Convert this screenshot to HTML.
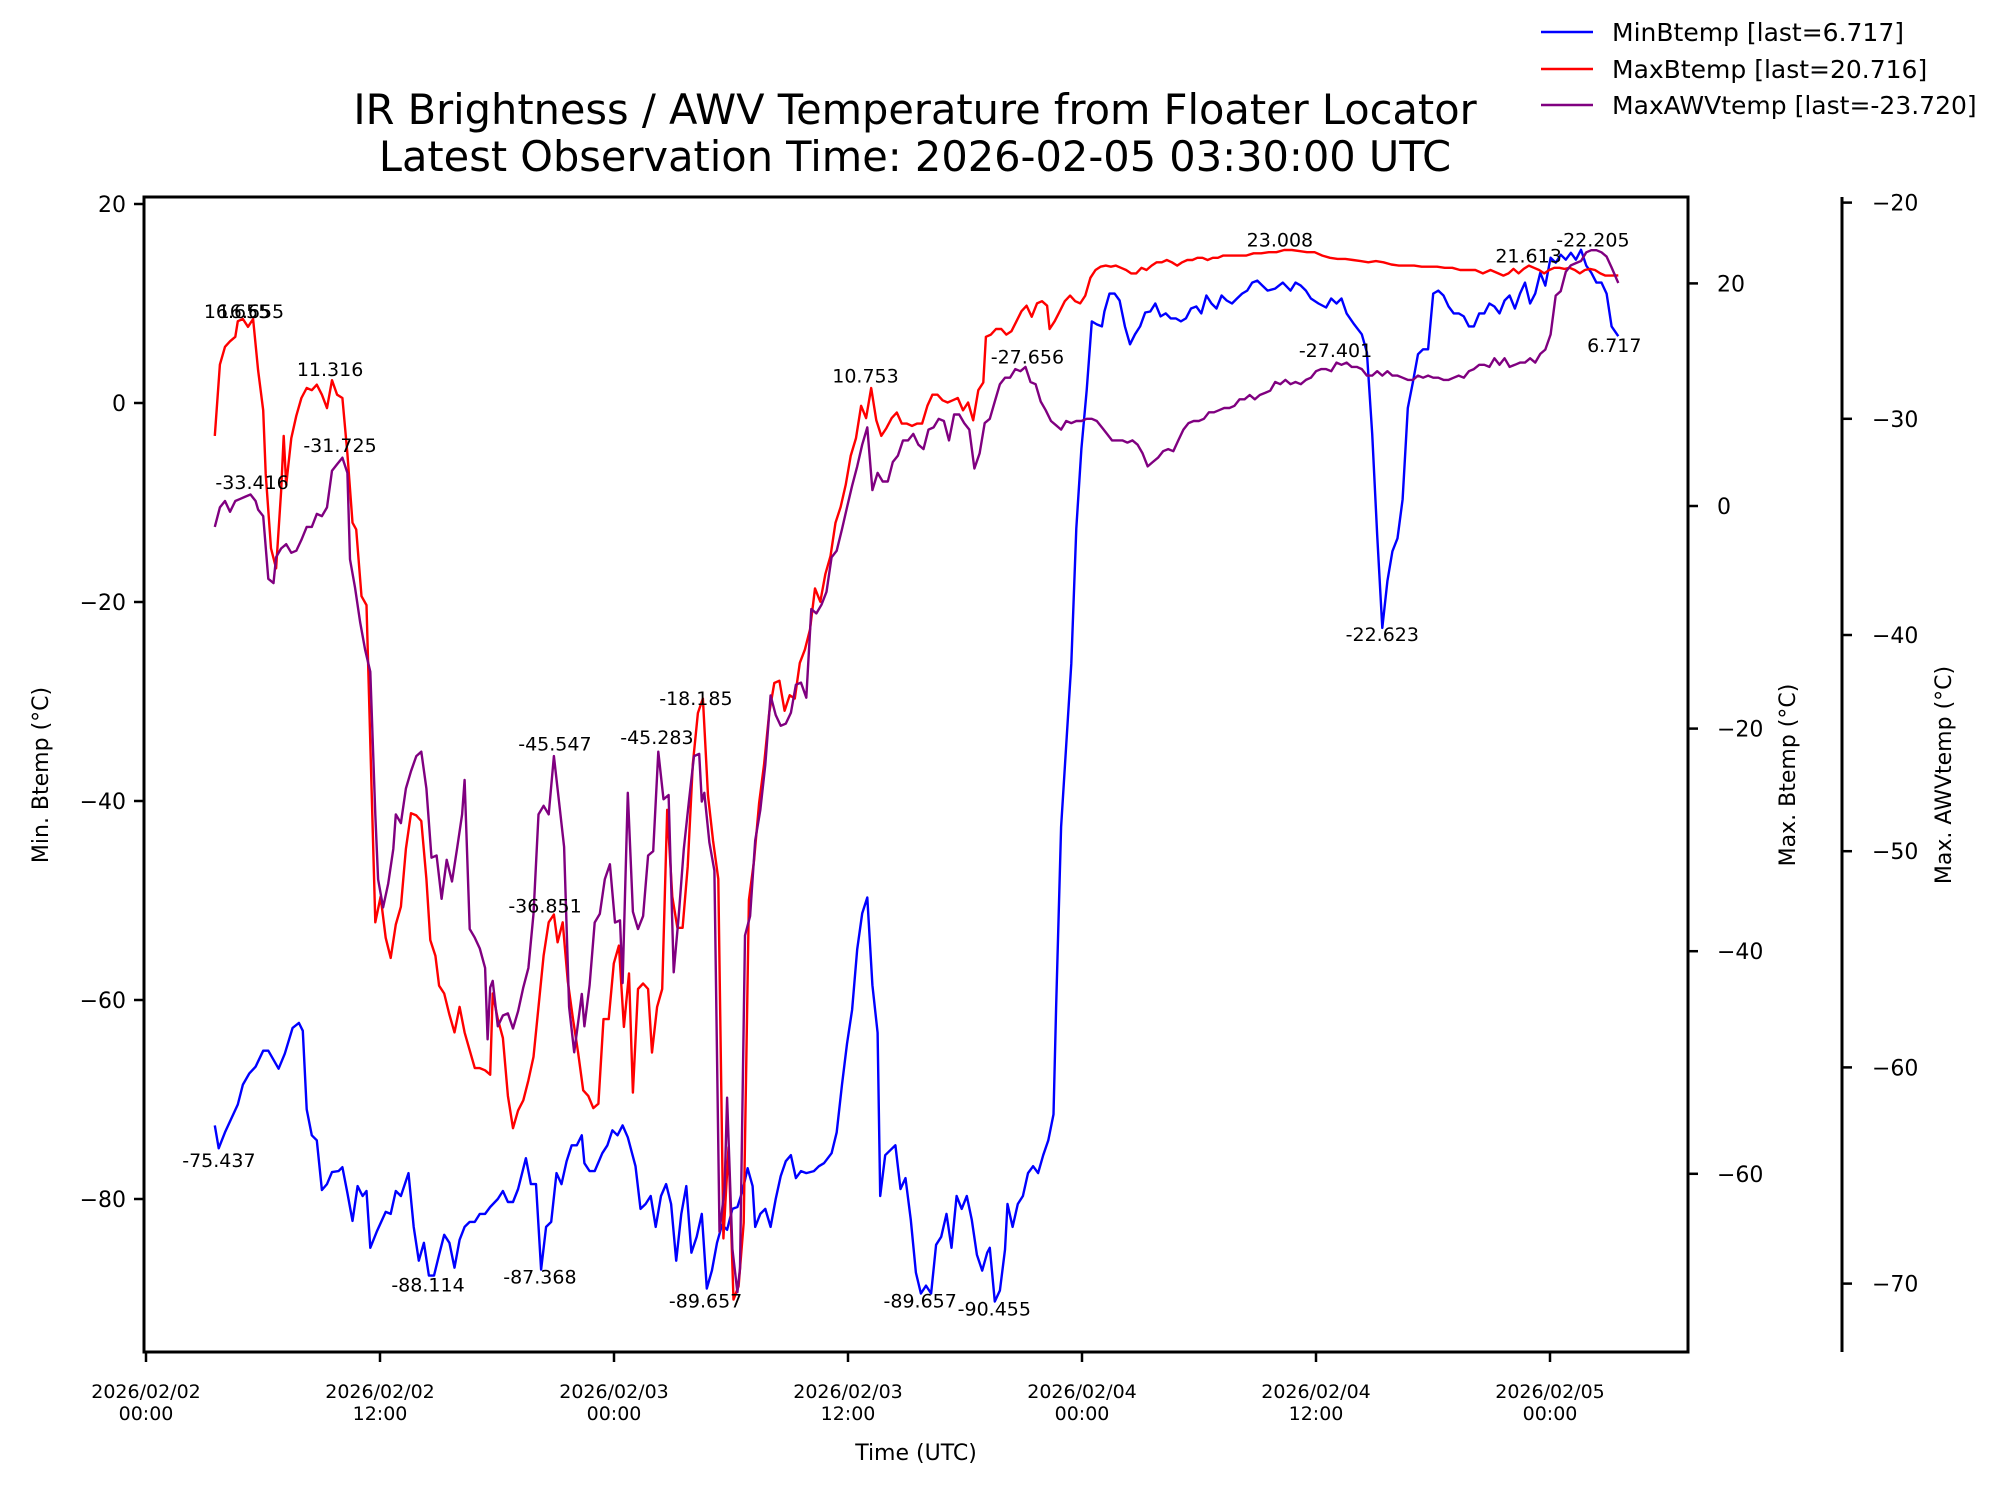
<!DOCTYPE html>
<html><head><meta charset="utf-8"><style>
html,body{margin:0;padding:0;background:#fff;}
svg{display:block;font-family:"DejaVu Sans","Liberation Sans",sans-serif;}
</style></head><body>
<svg id="chart" width="1998" height="1495" viewBox="0 0 1998 1495" xmlns="http://www.w3.org/2000/svg">
<rect x="0" y="0" width="1998" height="1495" fill="#fff"/>
<text x="915" y="124" font-size="41.5" text-anchor="middle">IR Brightness / AWV Temperature from Floater Locator</text>
<text x="915" y="171" font-size="41.5" text-anchor="middle">Latest Observation Time: 2026-02-05 03:30:00 UTC</text>
<g id="plot"></g>
<g>
<line x1="1541" y1="32" x2="1593" y2="32" stroke="#0000ff" stroke-width="2.5"/>
<text x="1612" y="41" font-size="25">MinBtemp [last=6.717]</text>
<line x1="1541" y1="69" x2="1593" y2="69" stroke="#ff0000" stroke-width="2.5"/>
<text x="1612" y="78" font-size="25">MaxBtemp [last=20.716]</text>
<line x1="1541" y1="105" x2="1593" y2="105" stroke="#800080" stroke-width="2.5"/>
<text x="1612" y="114" font-size="25">MaxAWVtemp [last=-23.720]</text>
</g>
<text x="916" y="1460" font-size="22" text-anchor="middle">Time (UTC)</text>
<text x="0" y="0" font-size="22" text-anchor="middle" transform="translate(48,775) rotate(-90)">Min. Btemp (°C)</text>
<text x="0" y="0" font-size="22" text-anchor="middle" transform="translate(1795,775) rotate(-90)">Max. Btemp (°C)</text>
<text x="0" y="0" font-size="22" text-anchor="middle" transform="translate(1951,775) rotate(-90)">Max. AWVtemp (°C)</text>
</svg>
<script>
// ---- data (hours since 2026-02-02 00:00 UTC, values in °C) ----
const minT = [3.53,3.73,4.05,4.71,4.97,5.29,5.62,6.01,6.27,6.80,7.12,7.52,7.84,8.04,8.24,8.50,8.76,9.02,9.28,9.54,9.87,10.07,10.33,10.59,10.85,11.11,11.31,11.50,11.83,12.29,12.55,12.81,13.07,13.46,13.73,13.99,14.25,14.51,14.77,15.03,15.29,15.56,15.82,16.08,16.34,16.60,16.86,17.12,17.39,17.65,18.04,18.30,18.56,18.82,19.08,19.48,19.74,20.00,20.26,20.52,20.78,21.05,21.31,21.57,21.83,22.09,22.35,22.48,22.75,23.01,23.40,23.66,23.92,24.18,24.44,24.71,25.10,25.36,25.62,25.88,26.14,26.41,26.67,26.93,27.19,27.45,27.71,27.97,28.24,28.50,28.76,29.02,29.28,29.54,29.80,30.07,30.33,30.59,30.85,31.11,31.24,31.50,31.76,32.03,32.29,32.55,32.81,33.07,33.33,33.59,33.86,34.25,34.51,34.77,35.16,35.42,35.69,35.95,36.21,36.47,36.73,36.99,37.25,37.52,37.65,37.91,38.17,38.43,38.69,38.95,39.22,39.48,39.74,40.00,40.26,40.52,40.78,41.05,41.31,41.57,41.83,42.09,42.35,42.61,42.88,43.14,43.27,43.53,43.79,44.05,44.18,44.44,44.71,44.97,45.23,45.49,45.75,46.01,46.27,46.54,46.67,46.93,47.19,47.45,47.71,47.97,48.24,48.50,48.76,49.02,49.15,49.41,49.67,49.93,50.20,50.46,50.72,50.98,51.24,51.50,51.76,52.03,52.29,52.55,52.81,53.07,53.33,53.59,53.86,54.12,54.38,54.64,54.90,55.16,55.42,55.69,55.95,56.21,56.47,56.73,56.99,57.25,57.52,57.91,58.30,58.69,58.95,59.22,59.48,59.74,60.13,60.52,60.78,61.05,61.31,61.57,61.96,62.35,62.61,62.88,63.14,63.40,63.66,63.92,64.18,64.44,64.71,64.97,65.23,65.49,65.75,66.01,66.27,66.54,66.80,67.06,67.32,67.58,67.84,68.10,68.37,68.63,68.89,69.15,69.41,69.67,69.93,70.20,70.46,70.72,70.98,71.24,71.50,71.76,72.03,72.29,72.55,72.81,73.07,73.33,73.59,73.86,74.12,74.38,74.64,74.90,75.16,75.5];
const minBtemp = [-72.6,-74.9,-73.3,-70.5,-68.5,-67.4,-66.7,-65.1,-65.1,-66.9,-65.4,-62.8,-62.3,-63.1,-71.0,-73.6,-74.1,-79.1,-78.5,-77.3,-77.2,-76.8,-79.4,-82.2,-78.7,-79.7,-79.2,-84.9,-83.3,-81.3,-81.5,-79.2,-79.7,-77.4,-82.8,-86.2,-84.4,-87.7,-87.7,-85.6,-83.6,-84.4,-86.9,-84.1,-82.8,-82.3,-82.3,-81.5,-81.5,-80.8,-80.0,-79.2,-80.3,-80.3,-79.0,-75.9,-78.5,-78.5,-87.1,-82.8,-82.3,-77.4,-78.5,-76.2,-74.6,-74.6,-73.6,-76.4,-77.2,-77.2,-75.4,-74.6,-73.1,-73.6,-72.6,-73.8,-76.7,-81.0,-80.5,-79.7,-82.8,-79.7,-78.5,-80.5,-86.2,-81.5,-78.7,-85.4,-83.8,-81.5,-89.0,-87.2,-84.4,-82.6,-83.1,-81.0,-80.8,-79.2,-76.9,-78.7,-82.8,-81.5,-81.0,-82.8,-80.0,-77.7,-76.2,-75.6,-77.9,-77.2,-77.4,-77.2,-76.7,-76.4,-75.4,-73.3,-68.5,-64.4,-61.0,-54.9,-51.3,-49.7,-58.5,-63.3,-79.7,-75.6,-75.1,-74.6,-79.0,-77.9,-82.1,-87.4,-89.5,-88.7,-89.5,-84.6,-83.8,-81.5,-84.9,-79.7,-81.0,-79.7,-82.1,-85.6,-87.2,-85.4,-84.9,-90.3,-89.2,-85.1,-80.5,-82.8,-80.5,-79.7,-77.4,-76.7,-77.4,-75.6,-74.1,-71.5,-60.8,-42.6,-34.4,-26.2,-12.6,-4.6,1.3,8.2,7.9,7.7,9.2,11.0,11.0,10.3,7.7,5.9,6.9,7.7,9.1,9.2,10.0,8.7,9.0,8.5,8.5,8.2,8.5,9.5,9.7,9.0,10.8,10.0,9.5,10.8,10.3,10.0,10.5,11.0,11.3,12.1,12.3,11.8,11.3,11.5,12.1,11.3,12.1,11.8,11.3,10.5,10.0,9.6,10.5,10.0,10.5,9.0,7.9,6.9,5.1,-3.1,-13.3,-22.6,-17.9,-14.9,-13.6,-9.7,-0.5,2.1,4.9,5.4,5.4,11.0,11.3,10.8,9.7,9.0,9.0,8.7,7.7,7.7,9.0,9.0,10.0,9.7,9.0,10.3,10.8,9.5,11.0,12.1,10.0,11.0,13.1,11.8,14.6,14.1,14.9,14.4,15.1,14.4,15.4,13.8,13.1,12.1,12.1,11.0,7.7,6.717];

const maxT = [3.53,3.79,4.05,4.31,4.58,4.71,4.97,5.23,5.49,5.75,6.01,6.14,6.41,6.67,6.93,7.06,7.19,7.45,7.71,7.97,8.24,8.50,8.76,9.02,9.28,9.54,9.80,10.07,10.33,10.59,10.78,11.05,11.31,11.57,11.76,12.03,12.29,12.55,12.81,13.07,13.33,13.59,13.86,14.12,14.38,14.58,14.84,15.03,15.29,15.56,15.82,16.08,16.34,16.60,16.86,17.12,17.39,17.65,17.78,18.04,18.30,18.56,18.82,19.08,19.35,19.61,19.87,20.13,20.39,20.65,20.92,21.11,21.37,21.63,21.90,22.16,22.42,22.68,22.94,23.20,23.46,23.73,23.99,24.25,24.51,24.77,24.97,25.23,25.49,25.75,25.95,26.21,26.47,26.73,26.99,27.25,27.52,27.78,28.04,28.30,28.56,28.82,29.08,29.35,29.61,29.87,30.13,30.39,30.65,30.92,31.18,31.44,31.70,31.96,32.22,32.48,32.75,33.01,33.27,33.53,33.79,34.05,34.31,34.58,34.84,35.10,35.36,35.62,35.88,36.14,36.41,36.67,36.93,37.19,37.45,37.71,37.97,38.24,38.50,38.76,39.02,39.28,39.54,39.80,40.07,40.33,40.59,40.85,41.11,41.37,41.63,41.90,42.16,42.42,42.68,42.94,43.07,43.33,43.59,43.86,44.12,44.38,44.64,44.90,45.16,45.42,45.69,45.95,46.21,46.34,46.60,46.86,47.12,47.39,47.65,47.91,48.17,48.43,48.69,48.95,49.22,49.48,49.74,50.00,50.26,50.52,50.78,51.05,51.31,51.57,51.83,52.09,52.35,52.61,52.88,53.14,53.40,53.66,53.92,54.18,54.44,54.71,54.97,55.23,55.62,56.01,56.41,56.80,57.19,57.58,57.97,58.37,58.76,59.15,59.54,59.93,60.33,60.72,61.11,61.50,61.90,62.29,62.68,63.07,63.46,63.86,64.25,64.64,65.03,65.42,65.82,66.21,66.60,66.99,67.39,67.78,68.17,68.56,68.95,69.35,69.61,69.87,70.13,70.39,70.65,70.92,71.18,71.44,71.70,71.96,72.22,72.48,72.75,73.01,73.27,73.53,73.79,74.05,74.31,74.58,74.84,75.10,75.5];
const maxBtemp = [6.3,12.7,14.3,14.8,15.2,16.6,16.8,16.1,16.8,12.2,8.6,2.9,-3.8,-5.6,1.3,6.3,1.9,6.1,8.1,9.7,10.6,10.4,10.9,10.0,8.8,11.3,10.0,9.7,4.7,-1.5,-2.1,-8.1,-8.9,-25.5,-37.4,-35.1,-38.8,-40.6,-37.6,-36.0,-30.8,-27.6,-27.8,-28.3,-33.5,-39.0,-40.4,-43.1,-43.8,-45.7,-47.3,-45.0,-47.3,-48.9,-50.5,-50.5,-50.7,-51.1,-43.8,-46.1,-47.8,-53.0,-55.9,-54.3,-53.4,-51.6,-49.5,-45.0,-40.4,-37.4,-36.7,-39.2,-37.4,-42.7,-46.1,-49.1,-52.5,-53.0,-54.1,-53.7,-46.1,-46.1,-41.1,-39.5,-46.8,-42.0,-52.7,-43.4,-42.9,-43.4,-49.1,-45.0,-43.4,-27.3,-35.1,-37.9,-37.9,-32.4,-23.2,-18.6,-17.3,-26.0,-30.1,-33.5,-65.8,-57.6,-71.3,-70.1,-64.4,-35.4,-31.9,-26.7,-23.2,-18.6,-15.9,-15.7,-18.4,-17.0,-17.3,-14.1,-12.9,-11.1,-7.4,-8.6,-6.1,-4.5,-1.5,-0.1,1.9,4.5,6.1,9.0,7.9,10.6,7.7,6.3,7.0,7.9,8.4,7.4,7.4,7.2,7.4,7.4,9.0,10.0,10.0,9.5,9.3,9.5,9.7,8.6,9.3,7.7,10.4,11.1,15.2,15.4,15.9,15.9,15.4,15.7,16.6,17.5,18.0,17.0,18.2,18.4,18.0,15.9,16.6,17.5,18.4,18.9,18.4,18.2,18.9,20.5,21.2,21.5,21.6,21.5,21.6,21.4,21.2,20.9,20.9,21.4,21.2,21.6,21.9,21.9,22.1,21.9,21.6,21.9,22.1,22.1,22.3,22.3,22.1,22.3,22.3,22.5,22.5,22.5,22.5,22.7,22.7,22.8,22.8,23.0,23.0,22.9,22.8,22.8,22.5,22.3,22.2,22.2,22.1,22.0,21.9,22.0,21.9,21.7,21.6,21.6,21.6,21.5,21.5,21.5,21.4,21.4,21.2,21.2,21.2,20.9,21.2,20.9,20.7,20.9,21.3,20.9,21.3,21.6,21.4,21.2,20.9,21.2,21.4,21.4,21.3,21.4,21.2,20.9,21.2,21.3,21.2,20.9,20.7,20.7,20.716];

const awvT = [3.53,3.79,4.05,4.31,4.58,4.84,5.10,5.36,5.62,5.75,6.01,6.27,6.54,6.67,6.93,7.19,7.45,7.71,7.97,8.24,8.50,8.76,9.02,9.28,9.54,9.80,10.07,10.33,10.46,10.72,10.98,11.24,11.50,11.76,11.90,12.16,12.42,12.68,12.81,13.07,13.33,13.59,13.86,14.12,14.38,14.64,14.90,15.16,15.42,15.69,15.95,16.21,16.34,16.60,16.86,17.12,17.39,17.52,17.65,17.78,18.04,18.30,18.56,18.82,19.08,19.35,19.61,19.87,20.13,20.39,20.65,20.92,21.18,21.44,21.70,21.96,22.22,22.35,22.48,22.75,23.01,23.27,23.53,23.79,24.05,24.31,24.44,24.71,24.97,25.23,25.49,25.75,26.01,26.27,26.54,26.80,27.06,27.32,27.58,27.84,28.10,28.37,28.50,28.63,28.89,29.15,29.41,29.67,29.80,30.07,30.33,30.46,30.72,30.98,31.24,31.50,31.76,32.03,32.29,32.55,32.81,33.07,33.33,33.59,33.86,34.12,34.38,34.64,34.90,35.16,35.42,35.69,35.95,36.21,36.47,36.73,36.99,37.25,37.52,37.78,38.04,38.30,38.56,38.82,39.08,39.35,39.61,39.87,40.13,40.39,40.65,40.92,41.18,41.44,41.70,41.96,42.22,42.48,42.75,43.01,43.27,43.53,43.79,44.05,44.31,44.58,44.84,45.10,45.36,45.62,45.88,46.14,46.41,46.67,46.93,47.19,47.45,47.71,47.97,48.24,48.50,48.76,49.02,49.28,49.54,49.80,50.07,50.33,50.59,50.85,51.11,51.37,51.63,51.90,52.16,52.42,52.68,52.94,53.20,53.46,53.73,53.99,54.25,54.51,54.77,55.03,55.29,55.56,55.82,56.08,56.34,56.60,56.86,57.12,57.39,57.65,57.91,58.17,58.43,58.69,58.95,59.22,59.48,59.74,60.00,60.26,60.52,60.78,61.05,61.31,61.57,61.83,62.09,62.35,62.61,62.88,63.14,63.40,63.66,63.92,64.18,64.44,64.71,64.97,65.23,65.49,65.75,66.01,66.27,66.54,66.80,67.06,67.32,67.58,67.84,68.10,68.37,68.63,68.89,69.15,69.41,69.67,69.93,70.20,70.46,70.72,70.98,71.24,71.50,71.76,72.03,72.29,72.55,72.81,73.07,73.33,73.59,73.86,74.12,74.38,74.64,74.90,75.16,75.5];
const maxAWVtemp = [-35.0,-34.1,-33.8,-34.3,-33.8,-33.7,-33.6,-33.5,-33.8,-34.2,-34.5,-37.4,-37.6,-36.4,-36.0,-35.8,-36.2,-36.1,-35.6,-35.0,-35.0,-34.4,-34.5,-34.1,-32.4,-32.1,-31.8,-32.5,-36.5,-37.8,-39.4,-40.7,-41.7,-48.3,-51.3,-52.6,-51.5,-49.9,-48.3,-48.7,-47.1,-46.3,-45.6,-45.4,-47.1,-50.3,-50.2,-52.2,-50.4,-51.4,-49.9,-48.3,-46.7,-53.6,-54.0,-54.5,-55.4,-58.7,-56.3,-56.0,-58.1,-57.6,-57.5,-58.2,-57.4,-56.3,-55.4,-52.9,-48.3,-47.9,-48.3,-45.6,-47.7,-49.8,-57.2,-59.3,-57.5,-56.6,-58.1,-56.2,-53.3,-52.9,-51.3,-50.6,-53.3,-53.2,-56.1,-47.3,-52.8,-53.6,-53.0,-50.2,-50.0,-45.4,-47.6,-47.4,-55.6,-53.0,-49.9,-47.7,-45.6,-45.5,-47.7,-47.3,-49.6,-50.9,-67.6,-65.6,-61.4,-68.4,-70.4,-69.3,-53.9,-53.0,-49.5,-48.1,-46.0,-42.8,-43.7,-44.2,-44.1,-43.6,-42.3,-42.2,-42.9,-38.8,-39.0,-38.6,-38.0,-36.4,-36.1,-35.1,-34.1,-33.1,-32.2,-31.2,-30.4,-33.3,-32.5,-32.9,-32.9,-32.0,-31.7,-31.0,-31.0,-30.7,-31.2,-31.4,-30.5,-30.4,-30.0,-30.1,-31.0,-29.8,-29.8,-30.2,-30.5,-32.3,-31.6,-30.2,-30.0,-29.2,-28.4,-28.1,-28.1,-27.7,-27.8,-27.6,-28.3,-28.4,-29.2,-29.6,-30.1,-30.3,-30.5,-30.1,-30.2,-30.1,-30.1,-30.0,-30.0,-30.1,-30.4,-30.7,-31.0,-31.0,-31.0,-31.1,-31.0,-31.2,-31.6,-32.2,-32.0,-31.8,-31.5,-31.4,-31.5,-31.0,-30.5,-30.2,-30.1,-30.1,-30.0,-29.7,-29.7,-29.6,-29.5,-29.5,-29.4,-29.1,-29.1,-28.9,-29.1,-28.9,-28.8,-28.7,-28.3,-28.4,-28.2,-28.4,-28.3,-28.4,-28.2,-28.1,-27.8,-27.7,-27.7,-27.8,-27.4,-27.5,-27.4,-27.6,-27.6,-27.7,-28.0,-28.0,-27.8,-28.0,-27.8,-28.0,-28.0,-28.1,-28.2,-28.2,-28.0,-28.1,-28.0,-28.1,-28.1,-28.2,-28.2,-28.1,-28.0,-28.1,-27.8,-27.7,-27.5,-27.5,-27.6,-27.2,-27.5,-27.2,-27.6,-27.5,-27.4,-27.4,-27.2,-27.4,-27.0,-26.8,-26.1,-24.3,-24.1,-23.2,-22.9,-22.8,-22.7,-22.3,-22.2,-22.2,-22.3,-22.5,-23.0,-23.72];

const xTickHours = [0,12,24,36,48,60,72];
const xTickLabels = [["2026/02/02","00:00"],["2026/02/02","12:00"],["2026/02/03","00:00"],["2026/02/03","12:00"],["2026/02/04","00:00"],["2026/02/04","12:00"],["2026/02/05","00:00"]];
const leftTicks = [20,0,-20,-40,-60,-80];
const rightTicks = [20,0,-20,-40,-60];
const awvTicks = [-20,-30,-40,-50,-60,-70];

// annotations: hour, value, axis (l=min, r=max, a=awv), label
const annHours  = [4.67,5.38,9.44,9.95,5.44,3.74,14.46,20.2,20.46,20.97,26.2,28.2,28.7,36.9,39.7,43.5,45.2,58.15,61.0,63.4,70.9,74.2,75.3];
const annValues = [16.0,16.0,10.8,-32.0,-33.7,-75.2,-87.7,-86.9,-53.3,-45.8,-45.5,-18.8,-89.3,10.2,-89.3,-90.1,-27.9,22.4,-27.6,-24.9,21.0,-22.5,4.1];
const annAxis   = ["r","r","r","a","a","l","l","l","a","a","a","r","l","r","l","l","a","r","a","l","r","a","l"];
const annLabels = ["16.655","16.655","11.316","-31.725","-33.416","-75.437","-88.114","-87.368","-36.851","-45.547","-45.283","-18.185","-89.657","10.753","-89.657","-90.455","-27.656","23.008","-27.401","-22.623","21.613","-22.205","6.717"];

// ---- layout ----
const NS = "http://www.w3.org/2000/svg";
const AX = {l:144, r:1688, t:197, b:1352};
const xS = h => 146 + h*19.5;
const yL = v => 403 - v*9.95;
const yR = v => 506 - v*11.13;
const yA = v => 202.6 + (-20 - v)*21.62;
const plot = document.getElementById('plot');
function mk(tag, attrs, parent){
  const e = document.createElementNS(NS, tag);
  for (const k in attrs) e.setAttribute(k, attrs[k]);
  (parent||plot).appendChild(e);
  return e;
}
function series(ts, vs, ys, color, name){
  let d = '';
  for (let i=0;i<ts.length;i++){ d += (i?'L':'M') + xS(ts[i]).toFixed(1) + ',' + ys(vs[i]).toFixed(1); }
  const p = mk('path', {d:d, fill:'none', stroke:color, 'stroke-width':2.4, 'stroke-linejoin':'round'});
  
  
}
series(minT, minBtemp, yL, '#0000ff', 'minbtemp-line');
series(maxT, maxBtemp, yR, '#ff0000', 'maxbtemp-line');
series(awvT, maxAWVtemp, yA, '#800080', 'maxawvtemp-line');

for (let i=0;i<annLabels.length;i++){
  const ys = annAxis[i]==='l'?yL:(annAxis[i]==='r'?yR:yA);
  const below = annAxis[i]==='l' && annValues[i] < -70;
  const yy = ys(annValues[i]) + (below ? 16 : -10);
  const t = mk('text', {x:xS(annHours[i]).toFixed(1), y:yy.toFixed(1), 'font-size':19, 'text-anchor':'middle'});
  t.textContent = annLabels[i];
  
  
}

const frame = mk('rect', {x:AX.l, y:AX.t, width:AX.r-AX.l, height:AX.b-AX.t, fill:'none', stroke:'#000', 'stroke-width':3});


const sp3 = mk('line', {x1:1842, y1:AX.t, x2:1842, y2:AX.b, stroke:'#000', 'stroke-width':3});



for (let i=0;i<xTickHours.length;i++){
  const x = xS(xTickHours[i]);
  const tk = mk('line', {x1:x, y1:AX.b, x2:x, y2:AX.b+10, stroke:'#000', 'stroke-width':2.5});
  
  
  const t = mk('text', {x:x, y:1398, 'font-size':19, 'text-anchor':'middle'});
  
  
  const s1 = mk('tspan', {x:x, dy:0}, t); s1.textContent = xTickLabels[i][0];
  const s2 = mk('tspan', {x:x, dy:22}, t); s2.textContent = xTickLabels[i][1];
}
for (const v of leftTicks){
  const y = yL(v);
  const tk = mk('line', {x1:AX.l-10, y1:y, x2:AX.l, y2:y, stroke:'#000', 'stroke-width':2.5});
  
  
  const t = mk('text', {x:AX.l-18, y:y+8, 'font-size':22, 'text-anchor':'end'});
  t.textContent = v < 0 ? '\u2212' + (-v) : String(v);
  
  
}
for (const v of rightTicks){
  const y = yR(v);
  const tk = mk('line', {x1:AX.r, y1:y, x2:AX.r+10, y2:y, stroke:'#000', 'stroke-width':2.5});
  
  
  const t = mk('text', {x:AX.r+29, y:y+8, 'font-size':22});
  t.textContent = v < 0 ? '\u2212' + (-v) : String(v);
  
  
}
for (const v of awvTicks){
  const y = yA(v);
  const tk = mk('line', {x1:1842, y1:y, x2:1852, y2:y, stroke:'#000', 'stroke-width':2.5});
  
  
  const t = mk('text', {x:1872, y:y+8, 'font-size':22});
  t.textContent = v < 0 ? '\u2212' + (-v) : String(v);
  
  
}
</script>
</body></html>
